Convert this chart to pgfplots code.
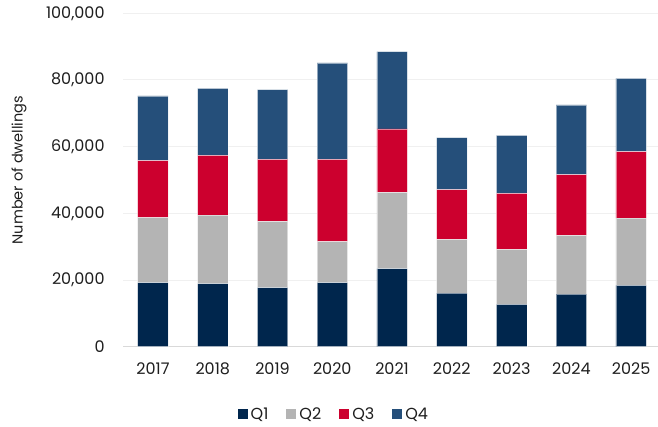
\documentclass[border=0pt]{standalone}
\usepackage{fontspec}
\setmainfont{Poppins}
\usepackage{pgfplots}
\pgfplotsset{compat=1.18}
\usetikzlibrary{calc}
\definecolor{qone}{RGB}{0,38,77}
\definecolor{qtwo}{RGB}{180,180,180}
\definecolor{qthree}{RGB}{204,0,46}
\definecolor{qfour}{RGB}{37,79,122}
\definecolor{gridc}{RGB}{240,240,240}
\definecolor{txt}{RGB}{30,30,30}
\begin{document}
\begin{tikzpicture}
\begin{axis}[
  name=ax,
  scale only axis,
  width=534.9pt, height=333.4pt,
  xmin=-0.5, xmax=8.45,
  ymin=0, ymax=100000,
  ybar stacked,
  bar width=0.51,
  xtick={0,...,8},
  xticklabels={2017,2018,2019,2020,2021,2022,2023,2024,2025},
  ytick={0,20000,40000,60000,80000,100000},
  scaled y ticks=false,
  /pgf/number format/.cd, 1000 sep={,}, fixed, assume math mode=true,
  /pgfplots/.cd,
  major tick length=0pt,
  axis line style={draw=none},
  ymajorgrids,
  grid style={draw=gridc, line width=1pt},
  extra y ticks={0},
  extra y tick labels={},
  extra y tick style={grid style={draw=black!15, line width=1.2pt}},
  tick label style={font=\fontsize{16}{19}\selectfont, text=txt},
  yticklabel style={xshift=-15pt},
  xticklabel style={yshift=-12pt},
  ylabel={Number of dwellings},
  every axis y label/.style={at={(axis description cs:-0.1946,0.53)}, rotate=90, anchor=center, font=\fontsize{14.5}{17}\selectfont, text=txt},
  legend columns=4,
  legend style={draw=none, at={(0.394,-0.202)}, anchor=center, font=\fontsize{16}{19}\selectfont, text=txt,
    /tikz/every even column/.append style={column sep=16pt},
    /tikz/every odd column/.append style={column sep=1pt}},
  legend image code/.code={\fill[#1,draw=none] (0pt,-5pt) rectangle (10pt,5pt);},
  every axis plot/.append style={draw=white, draw opacity=0.5, line width=0.6pt},
]
\addplot[fill=qone] coordinates {(0,19200) (1,18900) (2,17700) (3,19200) (4,23400) (5,16100) (6,12700) (7,15800) (8,18400)};
\addplot[fill=qtwo] coordinates {(0,19500) (1,20600) (2,19900) (3,12300) (4,22900) (5,16100) (6,16500) (7,17600) (8,20200)};
\addplot[fill=qthree] coordinates {(0,17100) (1,17900) (2,18600) (3,24700) (4,19000) (5,14900) (6,16800) (7,18200) (8,19900)};
\addplot[fill=qfour] coordinates {(0,19400) (1,20100) (2,20900) (3,28900) (4,23200) (5,15600) (6,17400) (7,20900) (8,22000)};
\legend{Q1,Q2,Q3,Q4}
\end{axis}
\pgfresetboundingbox
\path[use as bounding box] ($(ax.south west)+(-123.1pt,-80.3pt)$) rectangle ($(ax.north east)+(0pt,13.3pt)$);
\end{tikzpicture}
\end{document}
